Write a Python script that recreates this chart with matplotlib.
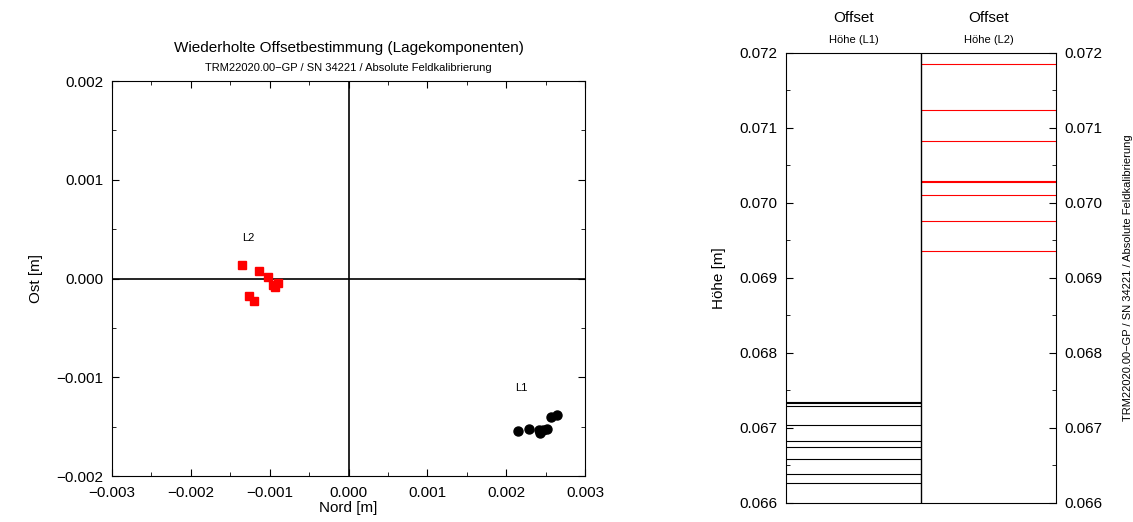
import numpy as np
import matplotlib.pyplot as plt
from matplotlib.ticker import MultipleLocator

plt.rcParams['font.family'] = ['Liberation Sans', 'DejaVu Sans']

# Lagekomponenten (Nord, Ost) in m
l1_nord = [0.002154, 0.002293, 0.002420, 0.002429, 0.002471, 0.002522, 0.002569, 0.002641]
l1_ost = [-0.001544, -0.001527, -0.001534, -0.001562, -0.001534, -0.001524, -0.001399, -0.001382]
l2_nord = [-0.001347, -0.001139, -0.001017, -0.000962, -0.000898, -0.000932, -0.001258, -0.001199]
l2_ost = [0.000134, 0.000076, 0.000015, -0.000066, -0.000049, -0.000086, -0.000177, -0.000228]

# Hoehenoffsets in m
l1_hoehe = [0.067351, 0.067329, 0.067297, 0.067044, 0.066831, 0.066743, 0.066591, 0.066383, 0.066271]
l2_hoehe = [0.071849, 0.071240, 0.070827, 0.070297, 0.070276, 0.070107, 0.069764, 0.069356]

subtitle = 'TRM22020.00\u2212GP / SN 34221 / Absolute Feldkalibrierung'

fig = plt.figure(figsize=(11.33, 5.22), dpi=100)

#-----------------------------------------------------------------------------#
# Lage
ax = fig.add_axes([0.0989, 0.0881, 0.4174, 0.7567])
ax.axhline(0, color='black', lw=1.2, zorder=1)
ax.axvline(0, color='black', lw=1.2, zorder=1)
ax.plot(l2_nord, l2_ost, 's', color='red', ms=6, zorder=3)
ax.plot(l1_nord, l1_ost, 'o', color='black', ms=6.5, zorder=3)
ax.text(-0.001275, 0.00041, 'L2', fontsize=8, ha='center', va='center')
ax.text(0.002188, -0.00111, 'L1', fontsize=8, ha='center', va='center')
ax.set_xlim(-0.003, 0.003)
ax.set_ylim(-0.002, 0.002)
ax.xaxis.set_major_locator(MultipleLocator(0.001))
ax.xaxis.set_minor_locator(MultipleLocator(0.0005))
ax.yaxis.set_major_locator(MultipleLocator(0.001))
ax.yaxis.set_minor_locator(MultipleLocator(0.0005))
ax.xaxis.set_major_formatter(lambda v, p: f'{v:.3f}'.replace('-', '\u2212'))
ax.yaxis.set_major_formatter(lambda v, p: f'{v:.3f}'.replace('-', '\u2212'))
ax.tick_params(which='both', direction='in', top=True, right=True, labelsize=11)
ax.tick_params(which='major', length=5)
ax.tick_params(which='minor', length=3)
ax.tick_params(axis='x', pad=7)
ax.tick_params(axis='y', pad=6)
ax.set_xlabel('Nord [m]', fontsize=11, labelpad=1)
ax.set_ylabel('Ost [m]', fontsize=11, labelpad=10)
ax.text(0.5, 1.065, 'Wiederholte Offsetbestimmung (Lagekomponenten)', transform=ax.transAxes,
        ha='center', va='bottom', fontsize=11)
ax.text(0.5, 1.02, subtitle, transform=ax.transAxes, ha='center', va='bottom', fontsize=8)

#-----------------------------------------------------------------------------#
# Hoehe
ax2 = fig.add_axes([0.6937, 0.0364, 0.2383, 0.8621])
ax2.hlines(l1_hoehe, 0, 1, color='black', lw=0.8)
ax2.hlines(l2_hoehe, 1, 2, color='red', lw=0.8)
ax2.axvline(1, color='black', lw=1.0)
ax2.set_xlim(0, 2)
ax2.set_ylim(0.066, 0.072)
ax2.set_xticks([])
ax2.yaxis.set_major_locator(MultipleLocator(0.001))
ax2.yaxis.set_minor_locator(MultipleLocator(0.0005))
ax2.yaxis.set_major_formatter(lambda v, p: f'{v:.3f}')
ax2.tick_params(which='both', direction='in', left=True, right=True, labelleft=True,
                labelright=True, labelsize=11)
ax2.tick_params(which='major', length=5)
ax2.tick_params(which='minor', length=3)
ax2.tick_params(axis='y', pad=6)
ax2.set_ylabel('Höhe [m]', fontsize=11, labelpad=10)
ax2.text(1.265, 0.5, subtitle, transform=ax2.transAxes, rotation=90, ha='center', va='center', fontsize=8)
for xpos, name in [(0.25, 'Höhe (L1)'), (0.75, 'Höhe (L2)')]:
    ax2.text(xpos, 1.062, 'Offset', transform=ax2.transAxes, ha='center', va='bottom', fontsize=11)
    ax2.text(xpos, 1.017, name, transform=ax2.transAxes, ha='center', va='bottom', fontsize=8)

plt.savefig('out.png', dpi=100)
